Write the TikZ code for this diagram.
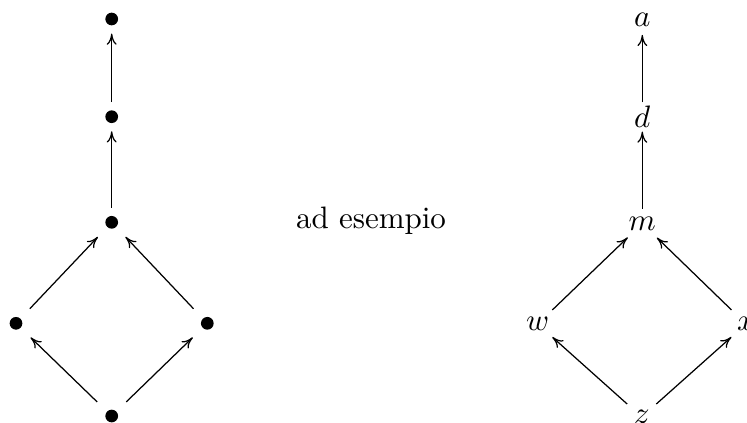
\documentclass[tikz,border=0pt]{standalone}
\usetikzlibrary{arrows.meta}
\begin{document}
\begin{tikzpicture}[x=0.3226pt,y=-0.3226pt,
  pt/.style={rectangle,inner sep=0pt,minimum size=9pt,
    path picture={\fill (path picture bounding box.center) circle (2.05pt);}},
  lt/.style={rectangle,inner sep=0pt,minimum size=9pt},
  arr/.style={line width=0.4pt,-{To[length=3.6pt,width=3.2pt]}}]
\useasboundingbox (0,0) rectangle (747,422);
% left diagram
\node[pt] (l1) at (111.7,19) {};
\node[pt] (l2) at (111.7,116.7) {};
\node[pt] (l3) at (111.7,222.3) {};
\node[pt] (l4) at (16,323.3) {};
\node[pt] (l5) at (207.3,323.3) {};
\node[pt] (l6) at (111.7,416) {};
\draw[arr] (l2) -- (l1);
\draw[arr] (l3) -- (l2);
\draw[arr] (l4) -- (l3);
\draw[arr] (l5) -- (l3);
\draw[arr] (l6) -- (l4);
\draw[arr] (l6) -- (l5);
% middle text
\node[anchor=base,inner sep=0pt] (t) at (371,228.3) {ad esempio};
% right diagram
\node[lt] (a) at (642.3,20.3) {$a$};
\node[lt] (d) at (642.3,117) {$d$};
\node[lt] (m) at (642.3,223.5) {$m$};
\node[lt] (w) at (537.7,324) {$w$};
\node[lt] (x) at (746,324) {$x$};
\node[lt] (z) at (641.7,417) {$z$};
\draw[arr] (d) -- (a);
\draw[arr] (m) -- (d);
\draw[arr] (w) -- (m);
\draw[arr] (x) -- (m);
\draw[arr] (z) -- (w);
\draw[arr] (z) -- (x);
\end{tikzpicture}
\end{document}
